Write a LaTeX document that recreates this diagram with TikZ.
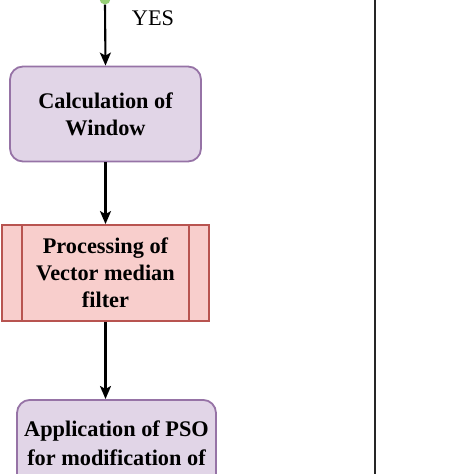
\documentclass[tikz,border=0pt]{standalone}
\usepackage{fontspec}
\setmainfont{Liberation Serif}
\usetikzlibrary{arrows.meta}
\definecolor{pfill}{HTML}{E1D5E7}
\definecolor{pdraw}{HTML}{9673A6}
\definecolor{rfill}{HTML}{F8CECC}
\definecolor{rdraw}{HTML}{B85450}
\definecolor{gdot}{HTML}{97D077}
\tikzset{
  purplebox/.style={draw=pdraw, fill=pfill, line width=1.8pt, rounded corners=13pt, align=center,
    font=\fontsize{22.3}{27}\selectfont\bfseries, inner sep=0pt},
  procbox/.style={draw=rdraw, fill=rfill, line width=1.8pt, align=center,
    font=\fontsize{22.3}{27}\selectfont\bfseries, inner sep=0pt},
  flowarrow/.style={-{Stealth[length=13pt,width=11pt,inset=3pt]}, line width=2.1pt, black},
}
\begin{document}
\begin{tikzpicture}[x=1pt,y=-1pt]
\useasboundingbox (0,0) rectangle (474,474);
\clip (0,0) rectangle (474,474);
\node[circle, fill=gdot, minimum size=11pt, inner sep=0pt] (dot) at (105,-1) {};
\node[font=\fontsize{22.3}{26}\selectfont, anchor=center] (yes) at (153,18) {YES};
\node[purplebox, minimum width=191pt, minimum height=95pt] (calc) at (105.5,114) {Calculation of\\Window};
\node[procbox, minimum width=207pt, minimum height=96pt] (proc) at (105.5,273) {Processing of\\Vector median\\filter};
\draw[rdraw, line width=1.8pt] ([xshift=21pt]proc.north west) -- ([xshift=21pt]proc.south west);
\draw[rdraw, line width=1.8pt] ([xshift=-21pt]proc.north east) -- ([xshift=-21pt]proc.south east);
\node[purplebox, minimum width=199pt, minimum height=130pt, anchor=north] (pso) at (116.5,399) {};
\node[font=\fontsize{22.3}{29}\selectfont\bfseries, align=center, anchor=north] (psotext) at (pso.north) {\rule{0pt}{34pt}Application of PSO\\for modification of};
\draw[flowarrow] (dot.south) -- (calc.north);
\draw[flowarrow] (calc.south) -- (proc.north);
\draw[flowarrow] (proc.south) -- (105.5,399);
\coordinate (vtop) at (375,0);
\coordinate (vbot) at (375,474);
\draw[line width=1.8pt, black!85] (vtop) -- (vbot);
\end{tikzpicture}
\end{document}
